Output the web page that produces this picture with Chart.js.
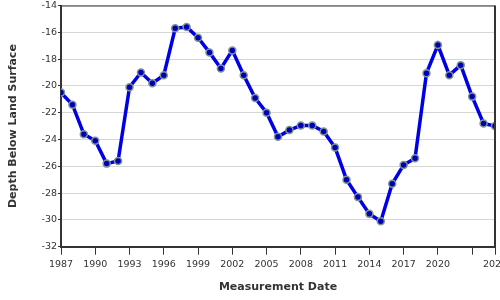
<!DOCTYPE html>
<html>
<head>
<meta charset="utf-8">
<script src="https://cdn.jsdelivr.net/npm/chart.js@4/dist/chart.umd.min.js"></script>
<style>
  html, body { margin: 0; padding: 0; background: #fff; }
  #wrap { width: 500px; height: 300px; overflow: hidden; position: relative; }
  #chart { position: absolute; left: 0; top: 0; }
</style>
</head>
<body>
<div id="wrap"><canvas id="chart" width="512" height="300"></canvas></div>
<script>
const years = [1987, 1988, 1989, 1990, 1991, 1992, 1993, 1994, 1995, 1996,
    1997, 1998, 1999, 2000, 2001, 2002, 2003, 2004, 2005, 2006,
    2007, 2008, 2009, 2010, 2011, 2012, 2013, 2014, 2015, 2016,
    2017, 2018, 2019, 2020, 2021, 2022, 2023, 2024, 2025];
const depths = [-20.5, -21.4, -23.6, -24.1, -25.8, -25.6, -20.1, -19.0, -19.8, -19.2,
    -15.7, -15.6, -16.4, -17.5, -18.7, -17.35, -19.2, -20.9, -22.0, -23.8,
    -23.3, -22.95, -22.95, -23.4, -24.6, -27.0, -28.3, -29.55, -30.1, -27.3,
    -25.9, -25.4, -19.05, -16.95, -19.2, -18.45, -20.8, -22.8, -23.0];
const xTickValues = [1987, 1990, 1993, 1996, 1999, 2002, 2005, 2008, 2011, 2014, 2017, 2020, 2023, 2025];
const hiddenXTicks = [2023];

const textColor = '#333';
const axisColor = '#333';

const frameBorder = {
    id: 'frameBorder',
    afterDraw(chart) {
        const { ctx, chartArea: a } = chart;
        ctx.save();
        ctx.strokeStyle = axisColor;
        ctx.lineWidth = 1;
        ctx.beginPath();
        ctx.moveTo(a.left, a.top + 0.5);
        ctx.lineTo(a.right, a.top + 0.5);
        ctx.stroke();
        ctx.lineWidth = 2;
        ctx.beginPath();
        ctx.moveTo(a.right, a.top);
        ctx.lineTo(a.right, a.bottom);
        ctx.stroke();
        ctx.restore();
    }
};

new Chart(document.getElementById('chart'), {
    type: 'line',
    data: {
        datasets: [{
            label: 'Depth',
            data: years.map((y, i) => ({ x: y, y: depths[i] })),
            borderColor: '#0000e6',
            borderWidth: 3.5,
            pointRadius: 3.5,
            pointBorderWidth: 1.5,
            pointBackgroundColor: '#0000b4',
            pointBorderColor: '#7f9494',
            tension: 0
        }]
    },
    options: {
        responsive: false,
        animation: false,
        layout: { padding: { top: 4, right: 17, bottom: 0, left: 0 } },
        plugins: { legend: { display: false }, tooltip: { enabled: false } },
        scales: {
            x: {
                type: 'linear',
                min: 1987,
                max: 2025,
                afterBuildTicks: scale => { scale.ticks = xTickValues.map(v => ({ value: v })); },
                afterFit: scale => { scale.height = 53.3; },
                ticks: {
                    autoSkip: false,
                    maxRotation: 0,
                    padding: 4,
                    color: textColor,
                    font: { family: 'DejaVu Sans', size: 9.5 },
                    callback: v => hiddenXTicks.includes(v) ? '' : String(v)
                },
                grid: { drawOnChartArea: false, drawTicks: true, tickLength: 8, tickColor: axisColor, tickWidth: 1 },
                border: { color: axisColor, width: 2 },
                title: {
                    display: true,
                    text: 'Measurement Date',
                    color: textColor,
                    font: { family: 'DejaVu Sans', size: 11, weight: 'bold' },
                    padding: { top: 0, bottom: 6 }
                }
            },
            y: {
                min: -32,
                max: -14,
                afterFit: scale => {
                    scale.width = 61;
                    scale.paddingTop = 0;
                    scale.paddingBottom = 0;
                },
                ticks: {
                    stepSize: 2,
                    padding: 1,
                    color: textColor,
                    font: { family: 'DejaVu Sans', size: 9.5 }
                },
                grid: { color: '#d6d6d6', lineWidth: 1, tickLength: 3, tickColor: axisColor },
                border: { color: axisColor, width: 2 },
                title: {
                    display: true,
                    text: 'Depth Below Land Surface',
                    color: textColor,
                    font: { family: 'DejaVu Sans', size: 11, weight: 'bold' },
                    padding: { top: 7, bottom: 0 }
                }
            }
        }
    },
    plugins: [frameBorder]
});
</script>
</body>
</html>
